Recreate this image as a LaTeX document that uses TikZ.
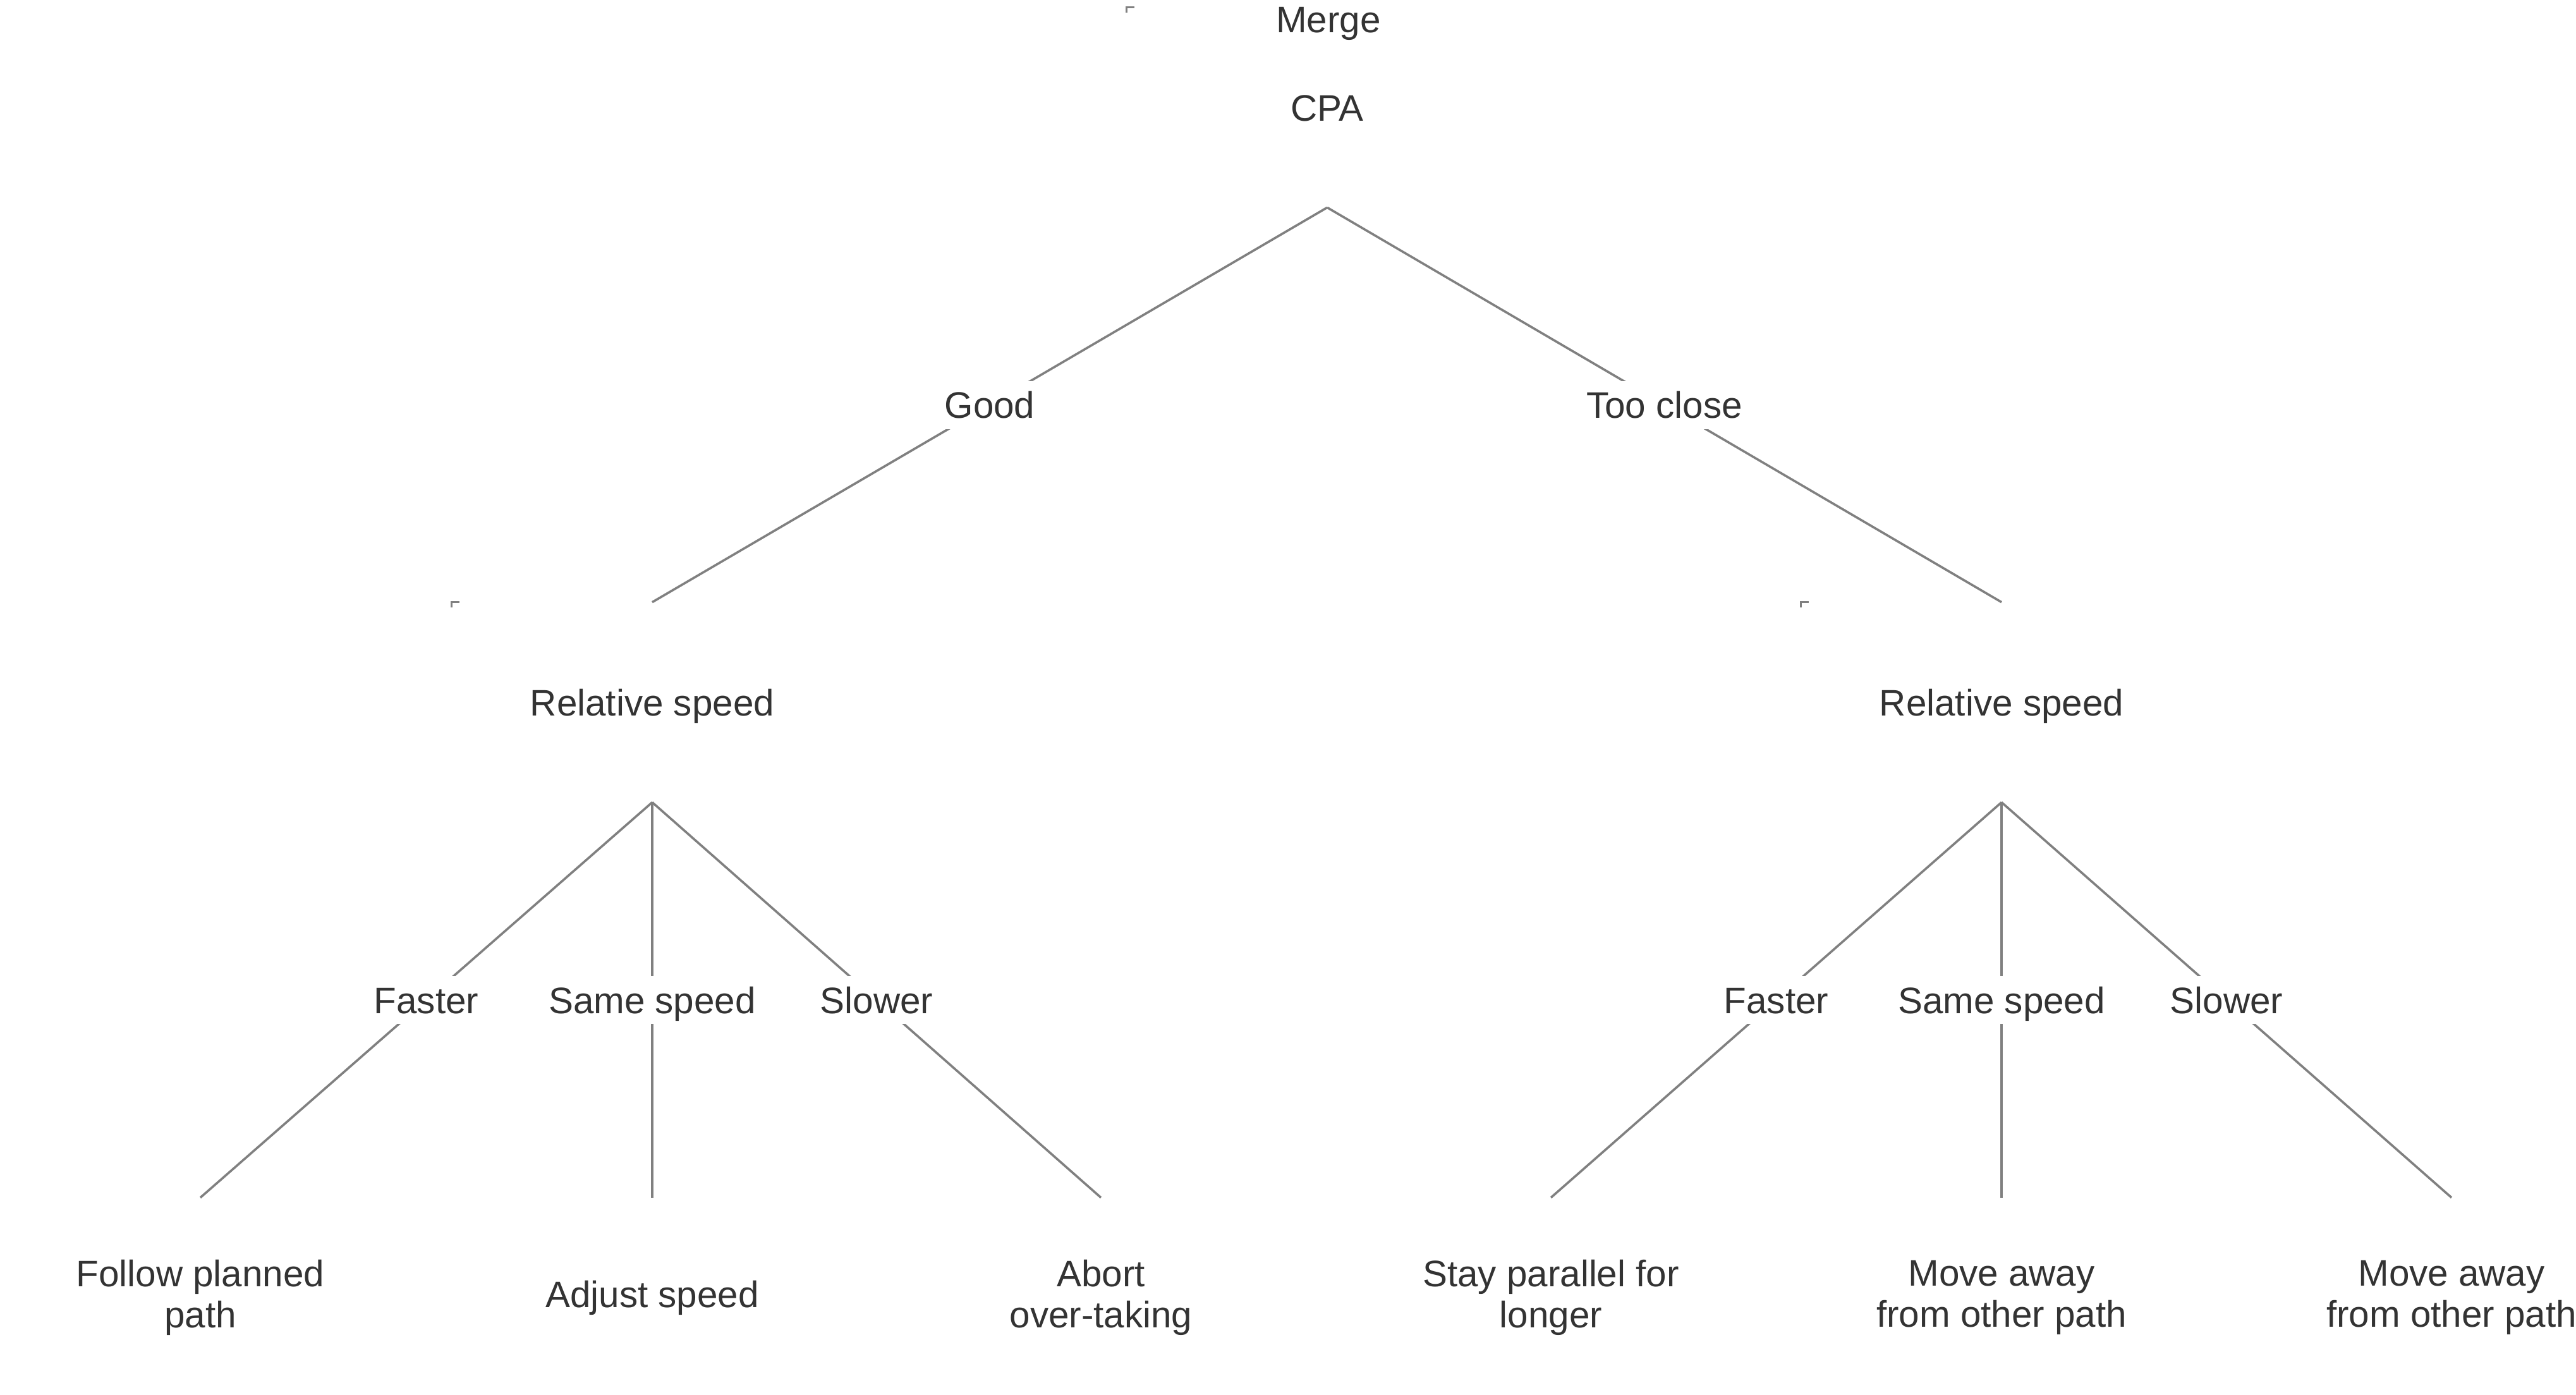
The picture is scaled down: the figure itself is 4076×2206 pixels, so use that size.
\documentclass[tikz,border=0pt]{standalone}
\usepackage{fontspec}
\setmainfont{Liberation Sans}
\usepackage{tikz}
\usetikzlibrary{positioning}

\definecolor{txtgray}{HTML}{333333}
\definecolor{linegray}{HTML}{808080}

\begin{document}
\begin{tikzpicture}[x=0.25pt, y=-0.25pt, text=txtgray,
    font=\fontsize{14.6pt}{16.25pt}\selectfont,
    box/.style = {minimum width=158.5pt, minimum height=78.75pt, inner sep=0pt, align=center},
    test/.style = {box, text height=10.5pt, text depth=0pt},
    answer/.style = {fill=white, inner sep=4.25pt, text height=10.5pt, text depth=0pt},
    branch/.style = {draw=linegray, line width=0.9pt},
    corner/.style = {draw=linegray, line width=0.8pt}]
    \useasboundingbox (0,0) rectangle (4076,2206);

    \node[test] (cpa) at (2100,170) {CPA};
    \node[inner sep=0pt, text height=10.5pt, text depth=0pt] (merge) at (2102,30) {Merge};
    \node[test] (speedA) at (1032,1111) {Relative speed};
    \node[test] (speedB) at (3167,1111) {Relative speed};

    \node[box] (follow) at (317,2053) {Follow planned\\path};
    \node[box] (adjust) at (1032,2053) {Adjust speed};
    \node[box] (abort) at (1742,2053) {Abort\\over-taking};
    \node[box] (parallel) at (2454,2053) {Stay parallel for\\longer};
    \node[box] (awayA) at (3167,2053) {Move away\\from other path};
    \node[box] (awayB) at (3879,2053) {Move away\\from other path};

    \draw[branch] (cpa.south) -- node[answer] (good) {Good} (speedA.north);
    \draw[branch] (cpa.south) -- node[answer] (close) {Too close} (speedB.north);
    \draw[branch] (speedA.south) -- node[answer] (fasterA) {Faster} (follow.north);
    \draw[branch] (speedA.south) -- node[answer] (sameA) {Same speed} (adjust.north);
    \draw[branch] (speedA.south) -- node[answer] (slowerA) {Slower} (abort.north);
    \draw[branch] (speedB.south) -- node[answer] (fasterB) {Faster} (parallel.north);
    \draw[branch] (speedB.south) -- node[answer] (sameB) {Same speed} (awayA.north);
    \draw[branch] (speedB.south) -- node[answer] (slowerB) {Slower} (awayB.north);

    \foreach \n in {cpa,speedA,speedB}
        \draw[corner] ([yshift=-2pt]\n.north west) -- (\n.north west) -- ([xshift=3.2pt]\n.north west);
\end{tikzpicture}
\end{document}
